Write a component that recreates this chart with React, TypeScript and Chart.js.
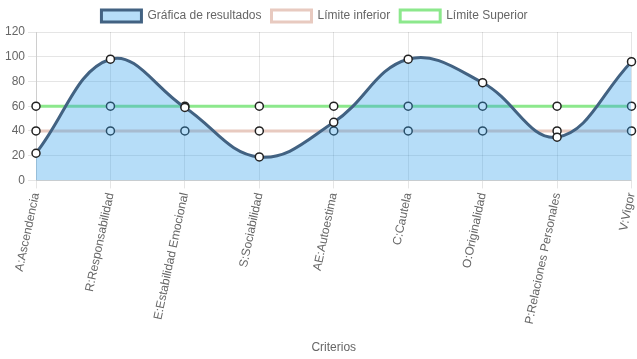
import React, { useEffect, useRef } from "react";
import { Chart, registerables } from "chart.js";

Chart.register(...registerables);

const categories = [
  "A:Ascendencia",
  "R:Responsabilidad",
  "E:Estabilidad Emocional",
  "S:Sociabilidad",
  "AE:Autoestima",
  "C:Cautela",
  "O:Originalidad",
  "P:Relaciones Personales",
  "V:Vigor",
];
const resultados = [22, 98, 59, 19, 47, 98, 79, 35, 96];
const limiteInferior = [40, 40, 40, 40, 40, 40, 40, 40, 40];
const limiteSuperior = [60, 60, 60, 60, 60, 60, 60, 60, 60];
const yTicks = [0, 20, 40, 60, 80, 100, 120];

export default function App() {
  const ref = useRef<HTMLCanvasElement | null>(null);
  useEffect(() => {
    document.body.style.margin = "0";
    const ctx = ref.current!;
    const shiftLegend = {
      id: "shiftLegend",
      afterLayout(chart: any) {
        if (chart.legend) {
          chart.legend.left -= 4;
          chart.legend.right -= 4;
        }
      },
    };
    const chart = new Chart(ctx, {
      type: "line",
      data: {
        labels: categories,
        datasets: [
          {
            label: "Gráfica de resultados",
            data: resultados,
            borderColor: "rgb(66,98,130)",
            backgroundColor: "rgba(54,162,235,0.36)",
            borderWidth: 3,
            fill: "origin",
            tension: 0.4,
            pointRadius: 4,
            pointBackgroundColor: "#fff",
            pointBorderColor: "#222",
            pointBorderWidth: 1.5,
          },
          {
            label: "Límite inferior",
            data: limiteInferior,
            borderColor: "rgb(232,202,192)",
            backgroundColor: "#fff",
            borderWidth: 3,
            fill: false,
            tension: 0.4,
            pointRadius: 4,
            pointBackgroundColor: "#fff",
            pointBorderColor: "#222",
            pointBorderWidth: 1.5,
          },
          {
            label: "Límite Superior",
            data: limiteSuperior,
            borderColor: "rgb(140,232,140)",
            backgroundColor: "#fff",
            borderWidth: 3,
            fill: false,
            tension: 0.4,
            pointRadius: 4,
            pointBackgroundColor: "#fff",
            pointBorderColor: "#222",
            pointBorderWidth: 1.5,
          },
        ],
      },
      options: {
        animation: false,
        responsive: false,
        maintainAspectRatio: false,
        plugins: {
          legend: {
            display: true,
            position: "top",
            labels: { color: "#666", font: { size: 12 } },
          },
          tooltip: { enabled: false },
        },
        scales: {
          x: {
            offset: false,
            grid: { color: "rgba(0,0,0,0.1)" },
            ticks: { color: "#666", minRotation: 78, maxRotation: 78, autoSkip: false },
            title: { display: true, text: "Criterios", color: "#666" },
            afterFit(scale: any) {
              scale.paddingRight = 4;
              scale.height += 8;
            },
          },
          y: {
            min: yTicks[0],
            max: yTicks[yTicks.length - 1],
            ticks: { stepSize: 20, color: "#666" },
            grid: { color: "rgba(0,0,0,0.1)" },
            afterFit(scale: any) {
              scale.width = 36;
            },
          },
        },
      },
      plugins: [shiftLegend],
    });
    return () => chart.destroy();
  }, []);
  return (
    <div style={{ position: "absolute", left: 0, top: 0, width: 637, height: 359 }}>
      <canvas ref={ref} width={637} height={359} style={{ width: 637, height: 359 }} />
    </div>
  );
}
